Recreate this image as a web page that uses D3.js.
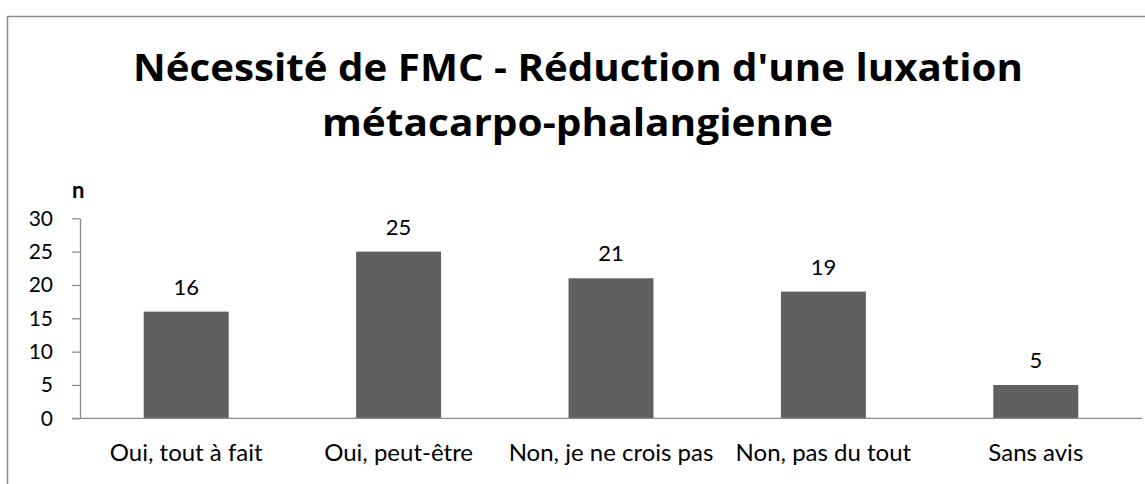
<!DOCTYPE html>
<html>
<head>
<meta charset="utf-8">
<script src="https://cdn.jsdelivr.net/npm/d3@7"></script>
<style>
  html, body { margin: 0; padding: 0; background: #fff; }
  svg { display: block; font-family: Lato, "Open Sans", sans-serif; }
</style>
</head>
<body>
<svg id="chart" width="1145" height="484"></svg>
<script>
// Réponses au questionnaire : nécessité d'une FMC
const categories = ["Oui, tout à fait", "Oui, peut-être", "Non, je ne crois pas", "Non, pas du tout", "Sans avis"];
const counts = [16, 25, 21, 19, 5];
const yTicks = [0, 5, 10, 15, 20, 25, 30];
const titleLines = ["Nécessité de FMC - Réduction d'une luxation", "métacarpo-phalangienne"];
const yLabel = "n";

const svg = d3.select("#chart");
const plot = { left: 80, right: 1142, top: 218.3, bottom: 418.3 };

// Cadre du graphique
svg.append("rect")
  .attr("x", 7.5).attr("y", 16.5)
  .attr("width", 1160).attr("height", 500)
  .attr("fill", "none").attr("stroke", "#8c8c8c").attr("stroke-width", 1.5);

// Titre (largeurs de ligne fixées)
const titleWidths = [890, 511];
svg.append("g").selectAll("text")
  .data(titleLines)
  .join("text")
  .attr("x", (d, i) => i === 0 ? 578 : 577.5)
  .attr("y", (d, i) => 81 + i * 55)
  .attr("text-anchor", "middle")
  .attr("font-family", "'Open Sans', sans-serif")
  .attr("font-weight", "bold")
  .attr("font-size", 38)
  .attr("textLength", (d, i) => titleWidths[i])
  .attr("lengthAdjust", "spacingAndGlyphs")
  .attr("fill", "#000")
  .text(d => d);

const x = d3.scaleBand().domain(categories).range([plot.left, plot.right]).paddingInner(0.6).paddingOuter(0.3);
const y = d3.scaleLinear().domain([0, 30]).range([plot.bottom, plot.top]);

// Axe vertical
const yAxis = svg.append("g")
  .attr("transform", `translate(${plot.left},0)`)
  .call(d3.axisLeft(y).tickValues(yTicks).tickSize(8).tickPadding(19).tickSizeOuter(0));
yAxis.select(".domain").attr("stroke", "#8c8c8c").attr("stroke-width", 1.3);
yAxis.selectAll(".tick line").attr("stroke", "#8c8c8c").attr("stroke-width", 1.3);
yAxis.selectAll(".tick text").attr("font-size", 21).attr("fill", "#000").attr("font-family", "Lato, sans-serif");

svg.append("text")
  .attr("x", 72).attr("y", 198)
  .attr("font-weight", "bold").attr("font-size", 22)
  .text(yLabel);

// Barres
svg.append("g").selectAll("rect")
  .data(counts)
  .join("rect")
  .attr("x", (d, i) => x(categories[i]))
  .attr("y", d => y(d))
  .attr("width", x.bandwidth())
  .attr("height", d => y(0) - y(d))
  .attr("fill", "#606060");

// Valeurs au-dessus des barres
svg.append("g").selectAll("text")
  .data(counts)
  .join("text")
  .attr("x", (d, i) => x(categories[i]) + x.bandwidth() / 2)
  .attr("y", d => y(d) - 17)
  .attr("text-anchor", "middle")
  .attr("font-size", 22)
  .text(d => d);

// Axe horizontal
const xAxis = svg.append("g")
  .attr("transform", `translate(0,${plot.bottom})`)
  .call(d3.axisBottom(x).tickSize(0).tickPadding(26));
xAxis.select(".domain").attr("d", `M72,0H${plot.right}`).attr("stroke", "#8c8c8c").attr("stroke-width", 1.3);
xAxis.selectAll(".tick text").attr("font-size", 24).attr("fill", "#000").attr("font-family", "Lato, sans-serif");
</script>
</body>
</html>
